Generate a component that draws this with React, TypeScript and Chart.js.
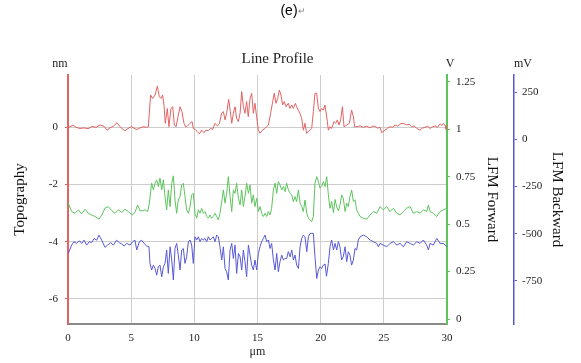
import React, { useEffect, useRef } from 'react';
import { Chart, registerables } from 'chart.js';

Chart.register(...registerables);

const SERIF = '"Liberation Serif", "Times New Roman", serif';
const SANS = '"Liberation Sans", Arial, sans-serif';

const RED = '#e36262';
const GREEN = '#5cc45c';
const BLUE = '#5858d6';

const xTicks = [0, 5, 10, 15, 20, 25, 30];
const nmTicks = [-6, -4, -2, 0];
const vTicks = [0, 0.25, 0.5, 0.75, 1, 1.25];
const mvTicks = [-750, -500, -250, 0, 250];

// Topography (nm)
const topoX = [0, 0.16, 0.4, 0.63, 0.95, 1.27, 1.58, 1.9, 2.22, 2.53, 2.85, 3.09, 3.32, 3.56, 3.88, 4.2, 4.51, 4.75, 5.04, 5.22, 5.44, 5.7, 5.94, 6.23, 6.36,
  6.54, 6.7, 6.89, 7.07, 7.23, 7.36, 7.49, 7.6, 7.7, 7.86, 7.99, 8.15, 8.29, 8.42, 8.55, 8.71, 8.87, 9.02, 9.18, 9.31, 9.47, 9.66, 9.82, 9.92,
  10.05, 10.24, 10.4, 10.58, 10.77, 10.92, 11.11, 11.29, 11.45, 11.64, 11.82, 11.98, 12.16, 12.3, 12.43, 12.56, 12.72, 12.85, 12.96, 13.09,
  13.22, 13.35, 13.48, 13.62, 13.75, 13.88, 14.01, 14.14, 14.27, 14.41, 14.54, 14.67, 14.8, 14.93, 15.07, 15.2, 15.38, 15.59, 15.86, 16.04,
  16.2, 16.33, 16.46, 16.6, 16.73, 16.86, 16.99, 17.12, 17.26, 17.44, 17.57, 17.71, 17.84, 18.0, 18.1, 18.23, 18.36, 18.5, 18.63, 18.76,
  18.89, 19.02, 19.16, 19.29, 19.42, 19.55, 19.68, 19.82, 19.95, 20.08, 20.21, 20.34, 20.48, 20.61, 20.74, 20.87, 21.06, 21.19, 21.32,
  21.45, 21.58, 21.72, 21.85, 22.06, 22.27, 22.45, 22.59, 22.69, 22.85, 23.11, 23.38, 23.64, 23.91, 24.1, 24.3, 24.5, 24.7, 24.83, 25.09,
  25.3, 25.49, 25.7, 25.88, 26.1, 26.28, 26.54, 26.81, 27.0, 27.2, 27.4, 27.6, 27.86, 28.05, 28.26, 28.45, 28.66, 28.85, 29.05, 29.25,
  29.45, 29.6, 29.71, 29.85, 29.92, 30];
const topoY = [0, 0.02, 0.08, 0.0, -0.04, -0.02, -0.05, 0.03, 0.0, 0.08, 0.04, -0.1, -0.02, 0.03, 0.16, -0.02, -0.12, -0.04, 0.02, -0.03, -0.08, -0.02, 0.02, 0.0, 0.02,
  1.13, 1.01, 1.13, 1.44, 1.07, 1.01, 1.13, 0.78, 0.14, 0.66, 0.02, 0.66, 0.72, 0.08, 0.02, 0.37, 0.72, 0.55, 0.14, 0.02, 0.05, 0.14, 0.2, -0.04,
  -0.07, -0.15, -0.23, -0.1, -0.19, -0.1, -0.12, -0.04, -0.07, 0.14, 0.05, 0.12, 0.49, 0.55, 0.26, 0.49, 0.98, 0.55, 0.14, 0.49,
  0.72, 0.31, 0.2, 0.49, 1.25, 0.72, 0.49, 0.9, 0.37, 1.01, 1.19, 0.49, 0.84, 0.37, -0.1, -0.21, -0.1, -0.04, 0.08, 0.49,
  0.9, 1.19, 0.84, 1.01, 1.3, 1.13, 0.78, 0.9, 0.72, 0.84, 0.66, 0.78, 0.66, 0.84, 0.72, 0.6, 0.49, 0.31, -0.1, 0.14,
  -0.21, -0.15, -0.1, -0.04, 0.55, 1.19, 1.19, 0.66, 0.55, 0.66, 0.6, 0.78, 0.37, -0.1, 0.02, -0.04, 0.2, 0.14, 0.26,
  0.08, 0.26, 0.72, 0.02, 0.08, 0.14, 0.6, 0.37, 0.02, 0.02, 0.05, 0.0, 0.04, -0.02, 0.04, 0.03, -0.03, 0.0, -0.19, -0.1,
  -0.03, 0.02, 0.0, 0.08, 0.04, 0.12, 0.14, 0.08, 0.11, 0.02, 0.05, -0.04, -0.1, -0.03, 0.0, 0.04, -0.04, 0.02, 0.05, 0.0,
  0.12, 0.06, 0.14, 0.08, -0.07, -0.05];

// LFM Forward (V)
const fwdX = [0, 0.29, 0.55, 0.82, 1.08, 1.35, 1.61, 1.87, 2.14, 2.45, 2.67, 2.93, 3.19, 3.46, 3.72, 3.98, 4.25, 4.51, 4.78, 5.09, 5.3, 5.51,
  5.7, 5.91, 6.1, 6.31, 6.44, 6.62, 6.76, 6.89, 7.02, 7.15, 7.28, 7.42, 7.55, 7.68, 7.81, 7.94, 8.08, 8.21, 8.34, 8.47, 8.6, 8.73, 8.87,
  9.0, 9.13, 9.26, 9.39, 9.53, 9.66, 9.79, 9.92, 10.05, 10.19, 10.32, 10.45, 10.58, 10.71, 10.85, 10.98, 11.11, 11.24, 11.37, 11.51,
  11.64, 11.77, 11.9, 12.03, 12.17, 12.3, 12.43, 12.56, 12.69, 12.83, 12.96, 13.09, 13.22, 13.35, 13.49, 13.62, 13.75, 13.88, 14.01,
  14.14, 14.28, 14.41, 14.54, 14.67, 14.8, 14.94, 15.07, 15.2, 15.33, 15.46, 15.6, 15.73, 15.86, 15.99, 16.12, 16.26, 16.39, 16.52,
  16.65, 16.78, 16.92, 17.05, 17.18, 17.31, 17.44, 17.58, 17.71, 17.84, 17.97, 18.1, 18.24, 18.37, 18.5, 18.63, 18.76, 18.9, 19.03,
  19.16, 19.29, 19.42, 19.55, 19.69, 19.82, 19.95, 20.08, 20.21, 20.35, 20.48, 20.61, 20.74, 20.87, 21.01, 21.14, 21.27, 21.4, 21.53,
  21.66, 21.79, 21.93, 22.06, 22.19, 22.32, 22.45, 22.59, 22.72, 22.85, 22.98, 23.12, 23.38, 23.64, 23.91, 24.17, 24.44, 24.7, 24.96,
  25.23, 25.49, 25.76, 26.02, 26.28, 26.55, 26.81, 27.08, 27.34, 27.6, 27.87, 28.13, 28.39, 28.53, 28.66, 28.92, 29.19, 29.45, 29.71, 30];
const fwdY = [0.613, 0.566, 0.557, 0.575, 0.554, 0.578, 0.557, 0.548, 0.54, 0.526, 0.548, 0.584, 0.592, 0.571, 0.557, 0.575, 0.561, 0.578, 0.566, 0.548, 0.561, 0.601,
  0.57, 0.57, 0.575, 0.566, 0.61, 0.715, 0.68, 0.715, 0.733, 0.698, 0.742, 0.68, 0.733, 0.645, 0.575, 0.68, 0.592, 0.715, 0.754, 0.627, 0.557, 0.627, 0.645,
  0.706, 0.715, 0.645, 0.575, 0.557, 0.592, 0.654, 0.662, 0.557, 0.531, 0.575, 0.557, 0.583, 0.557, 0.566, 0.54, 0.531, 0.548, 0.531, 0.54,
  0.557, 0.54, 0.522, 0.557, 0.618, 0.68, 0.61, 0.662, 0.75, 0.645, 0.566, 0.68, 0.662, 0.715, 0.636, 0.601, 0.68, 0.592, 0.645,
  0.715, 0.662, 0.706, 0.61, 0.654, 0.592, 0.636, 0.566, 0.592, 0.557, 0.54, 0.557, 0.54, 0.566, 0.548, 0.583, 0.68, 0.715, 0.662,
  0.724, 0.706, 0.68, 0.698, 0.671, 0.715, 0.68, 0.662, 0.654, 0.618, 0.645, 0.618, 0.68, 0.61, 0.592, 0.566, 0.627, 0.557, 0.531,
  0.522, 0.513, 0.54, 0.715, 0.75, 0.724, 0.689, 0.698, 0.724, 0.698, 0.75, 0.654, 0.583, 0.62, 0.56, 0.63, 0.59, 0.57, 0.6,
  0.654, 0.636, 0.566, 0.61, 0.592, 0.645, 0.68, 0.619, 0.628, 0.575, 0.557, 0.54, 0.531, 0.526, 0.548, 0.566, 0.557, 0.592, 0.575,
  0.592, 0.566, 0.584, 0.557, 0.548, 0.566, 0.584, 0.592, 0.557, 0.566, 0.557, 0.575, 0.566, 0.601, 0.566, 0.557, 0.54, 0.566, 0.575, 0.584];

// LFM Backward (mV)
const bwdX = [0.03, 0.29, 0.47, 0.69, 0.9, 1.08, 1.27, 1.48, 1.69, 1.87, 2.06, 2.27, 2.45, 2.67, 2.93, 3.14, 3.38, 3.59, 3.85, 4.06, 4.25,
  4.44, 4.65, 4.91, 5.12, 5.3, 5.44, 5.65, 5.83, 6.02, 6.23, 6.41, 6.49, 6.62, 6.76, 6.89, 7.02, 7.15, 7.28, 7.42, 7.55, 7.68, 7.81, 7.94,
  8.08, 8.21, 8.34, 8.47, 8.6, 8.73, 8.87, 9.0, 9.13, 9.26, 9.39, 9.53, 9.66, 9.79, 9.92, 10.05, 10.19, 10.32, 10.45, 10.58, 10.71, 10.85,
  10.98, 11.11, 11.24, 11.37, 11.51, 11.64, 11.77, 11.9, 12.03, 12.17, 12.3, 12.43, 12.56, 12.69, 12.83, 12.96, 13.09, 13.22, 13.35,
  13.49, 13.62, 13.75, 13.88, 14.01, 14.14, 14.28, 14.41, 14.54, 14.67, 14.8, 14.94, 15.07, 15.2, 15.33, 15.46, 15.6, 15.73, 15.86,
  15.99, 16.12, 16.26, 16.39, 16.52, 16.65, 16.78, 16.92, 17.05, 17.18, 17.31, 17.44, 17.58, 17.71, 17.84, 17.97, 18.1, 18.24, 18.37,
  18.5, 18.63, 18.76, 18.9, 19.03, 19.16, 19.29, 19.42, 19.55, 19.69, 19.82, 19.95, 20.08, 20.21, 20.35, 20.46, 20.61, 20.74, 20.87,
  21.01, 21.14, 21.27, 21.4, 21.53, 21.66, 21.79, 21.93, 22.06, 22.19, 22.32, 22.45, 22.59, 22.72, 22.85, 22.98, 23.12, 23.38, 23.64,
  23.91, 24.17, 24.44, 24.57, 24.7, 24.96, 25.23, 25.49, 25.76, 26.02, 26.28, 26.55, 26.81, 27.08, 27.34, 27.6, 27.87, 28.13, 28.39,
  28.53, 28.66, 28.92, 29.19, 29.45, 29.71, 30];
const bwdY = [-604, -560, -542, -551, -537, -551, -534, -560, -542, -547, -525, -534, -507, -534, -572, -560, -547, -560, -534, -547, -554,
  -565, -551, -560, -542, -534, -586, -542, -534, -551, -565, -569, -657, -692, -666, -684, -719, -675, -666, -728, -675, -657, -586, -710,
  -569, -639, -745, -578, -551, -613, -692, -586, -578, -657, -622, -542, -533, -560, -657, -516, -533, -516, -542, -525, -533, -525,
  -542, -516, -533, -525, -516, -542, -507, -516, -569, -639, -569, -684, -701, -745, -586, -551, -631, -560, -710,
  -604, -622, -692, -586, -648, -728, -560, -613, -666, -692, -639, -692, -604, -569, -542, -525, -507, -542, -533,
  -578, -551, -639, -692, -604, -701, -648, -613, -639, -631, -631, -595, -622, -586, -639, -613, -666, -684, -569,
  -525, -507, -516, -595, -516, -498, -498, -498, -622, -737, -692, -675, -684, -666, -660, -725, -657, -569, -533,
  -586, -551, -586, -542, -569, -639, -622, -569, -648, -595, -613, -666, -639, -578, -586, -533, -516, -507, -516,
  -533, -542, -551, -569, -551, -560, -569, -551, -542, -560, -551, -569, -542, -551, -560, -542, -551, -533, -560,
  -586, -551, -560, -525, -551, -551, -569];

const pts = (xs: number[], ys: number[]) => xs.map((x, i) => ({ x, y: ys[i] }));
const setTicks = (vals: number[]) => (s: any) => { s.ticks = vals.map((v) => ({ value: v })); };
const plainLabel = (v: any) => String(v);

const textPlugin = {
  id: 'freeText',
  afterDraw(chart: any) {
    const { ctx, chartArea, scales } = chart;
    ctx.save();
    ctx.textBaseline = 'middle';
    ctx.textAlign = 'center';
    ctx.fillStyle = '#000';
    ctx.font = `14px ${SANS}`;
    ctx.fillText('(e)', 289, 11);
    ctx.fillStyle = '#8a8a8a';
    ctx.font = `9px ${SANS}`;
    ctx.fillText('↵', 302, 12);
    ctx.fillStyle = '#222';
    ctx.font = `15px ${SERIF}`;
    ctx.fillText('Line Profile', 277.5, 59);
    ctx.font = `12px ${SERIF}`;
    ctx.fillText('nm', chartArea.left - 8, 64);
    ctx.fillText('V', scales.yV.left + 3, 64);
    ctx.fillText('mV', scales.ymV.left + 9, 64);
    ctx.restore();
  },
};

export default function App() {
  const ref = useRef<HTMLCanvasElement | null>(null);
  useEffect(() => {
    if (!ref.current) return;
    const tickFont = { family: SERIF, size: 11 };
    const titleFont = { family: SERIF, size: 15 };
    const chart = new Chart(ref.current, {
      type: 'line',
      data: {
        datasets: [
          { label: 'Topography', data: pts(topoX, topoY), yAxisID: 'y', borderColor: RED, borderWidth: 1, pointRadius: 0, tension: 0, fill: false },
          { label: 'LFM Forward', data: pts(fwdX, fwdY), yAxisID: 'yV', borderColor: GREEN, borderWidth: 1, pointRadius: 0, tension: 0, fill: false },
          { label: 'LFM Backward', data: pts(bwdX, bwdY), yAxisID: 'ymV', borderColor: BLUE, borderWidth: 1, pointRadius: 0, tension: 0, fill: false },
        ],
      },
      options: {
        animation: false,
        responsive: false,
        devicePixelRatio: 1,
        layout: { padding: { top: 75, left: 0, right: 0, bottom: 0 } },
        plugins: { legend: { display: false }, tooltip: { enabled: false }, title: { display: false } },
        scales: {
          x: {
            type: 'linear', position: 'bottom', min: 0, max: 30,
            afterBuildTicks: setTicks(xTicks),
            ticks: { font: tickFont, color: '#222', padding: 8, maxRotation: 0, autoSkip: false, callback: plainLabel },
            grid: { color: '#cdcdcd', lineWidth: 1, drawTicks: false },
            border: { color: '#8a8a8a', width: 2 },
            title: { display: true, text: 'μm', font: { family: SERIF, size: 12 }, color: '#222', padding: { top: 0, bottom: 4 } },
            afterFit: (s: any) => { s.height = 39; },
          },
          y: {
            type: 'linear', position: 'left', min: -6.88, max: 1.83,
            afterBuildTicks: setTicks(nmTicks),
            ticks: { font: tickFont, color: '#222', padding: 7, callback: plainLabel },
            grid: { color: '#cdcdcd', lineWidth: 1, tickColor: RED, tickLength: 3 },
            border: { color: RED, width: 2 },
            title: { display: true, text: 'Topography', font: titleFont, color: '#111', padding: { top: 11, bottom: 0 } },
            afterFit: (s: any) => { s.width = 68; },
          },
          yV: {
            type: 'linear', position: 'right', weight: 1, min: -0.026, max: 1.285,
            afterBuildTicks: setTicks(vTicks),
            ticks: { font: tickFont, color: '#222', padding: 6, callback: plainLabel },
            grid: { drawOnChartArea: false, tickColor: GREEN, tickLength: 3 },
            border: { color: GREEN, width: 2 },
            title: { display: true, text: 'LFM Forward', font: titleFont, color: '#111', padding: { top: 13, bottom: 0 } },
            afterFit: (s: any) => { s.width = 67; },
          },
          ymV: {
            type: 'linear', position: 'right', weight: 2, min: -978, max: 341,
            afterBuildTicks: setTicks(mvTicks),
            ticks: { font: tickFont, color: '#222', padding: 5, callback: plainLabel },
            grid: { drawOnChartArea: false, tickColor: BLUE, tickLength: 3 },
            border: { color: BLUE, width: 1.5 },
            title: { display: true, text: 'LFM Backward', font: titleFont, color: '#111', padding: { top: 15, bottom: 0 } },
            afterFit: (s: any) => { s.width = 67; },
          },
        },
      },
      plugins: [textPlugin],
    } as any);
    return () => chart.destroy();
  }, []);
  return (
    <div style={{ position: 'absolute', left: 0, top: 0, width: 581, height: 363, background: '#fff' }}>
      <canvas ref={ref} width={581} height={363} />
    </div>
  );
}
